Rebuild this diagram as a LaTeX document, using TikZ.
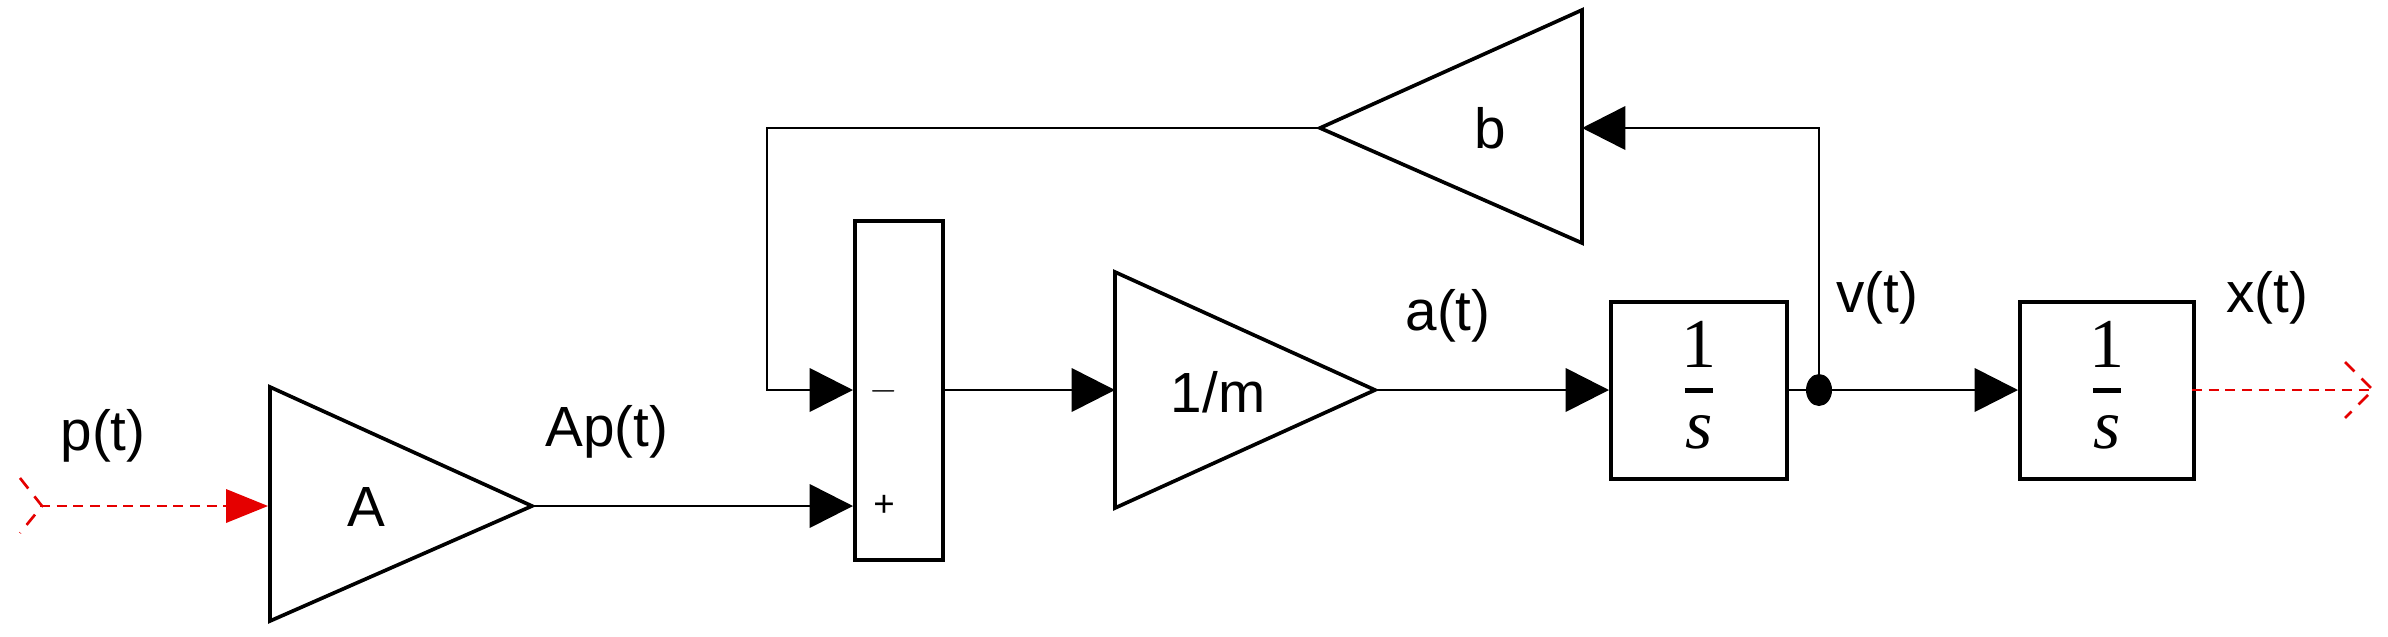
\documentclass[tikz,border=0pt]{standalone}
\usepackage{fontspec}
\setmainfont{Liberation Sans}
\newfontfamily\serif{Liberation Serif}
\usetikzlibrary{arrows.meta}
\begin{document}
\begin{tikzpicture}[x=0.3pt,y=-0.3pt,
  blk/.style={draw,line width=1.1pt,fill=white},
  wire/.style={line width=0.8pt,-{Triangle[length=13pt,width=13pt]}},
  sig/.style={draw,line width=0.8pt,line join=miter},
  red/.style={draw=red!90!black,dashed,line width=0.8pt,dash pattern=on 3pt off 2pt},
  lbl/.style={font=\fontsize{17}{17}\selectfont},
  frac/.style={font=\serif\fontsize{21}{21}\selectfont,inner sep=0pt}]
\useasboundingbox (0,0) rectangle (2388,636);
% gain A
\draw[blk] (270,387) -- (532,506) -- (270,621) -- cycle;
\coordinate (Ain) at (270,506); \coordinate (Aout) at (532,506);
\node[lbl] (Alab) at (366,507) {A};
% sum
\node[blk,minimum width=88*0.3pt,minimum height=339*0.3pt,inner sep=0,anchor=north west] (sum) at (853,219) {};
\coordinate (sm) at (853,390); \coordinate (sp) at (853,506); \coordinate (so) at (941,390);
\node[font=\fontsize{11}{11}\selectfont] (minus) at (884,391) {$-$};
\node[font=\fontsize{11}{11}\selectfont] (plus) at (884,506) {+};
% 1/m
\draw[blk] (1115,272) -- (1375,390) -- (1115,508) -- cycle;
\coordinate (Min) at (1115,390); \coordinate (Mout) at (1375,390);
\node[lbl] (Mlab) at (1218,392) {1/m};
% b
\draw[blk] (1582,10) -- (1320,128) -- (1582,243) -- cycle;
\coordinate (Bin) at (1582,128); \coordinate (Bout) at (1320,128);
\node[lbl] (Blab) at (1490,128) {b};
% integrators
\node[blk,minimum width=176*0.3pt,minimum height=177*0.3pt,inner sep=0,anchor=north west] (I1) at (1609,300) {};
\node[blk,minimum width=174*0.3pt,minimum height=177*0.3pt,inner sep=0,anchor=north west] (I2) at (2018,300) {};
\foreach \n in {I1,I2}{
  \node[frac] at ([yshift=46*0.3pt]\n.center) {1};
  \draw[line width=1.6pt] ([xshift=-14*0.3pt]\n.center) -- ([xshift=14*0.3pt]\n.center);
  \node[frac] at ([yshift=-42*0.3pt]\n.center) {\itshape s};
}
% junction
\coordinate (J) at (1819,390);
\fill (J) circle[x radius=13*0.3pt,y radius=16*0.3pt];
% wires
\draw[wire] (Aout) -- (sp);
\draw[wire] (so) -- (Min);
\draw[wire] (Mout) -- (1609,390);
\draw[sig] (1785,390) -- (J);
\draw[wire] (J) -- (2018,390);
\draw[wire] (J) |- (Bin);
\draw[wire] (Bout) -| (767,390) -- (sm);
% red in/out
\coordinate (pin) at (40,506);
\draw[red] (pin) -- (226,506);
\fill[red!90!black] (226,489) -- (268,506) -- (226,523) -- cycle;
\draw[red,dash pattern=on 4pt off 3pt] (20,478) -- (42,506) -- (20,533);
\coordinate (xout) at (2372,390);
\draw[red] (2192,390) -- (xout);
\draw[red,dash pattern=on 4pt off 3pt] (2345,362) -- (2373,390) -- (2345,418);
% labels
\node[lbl] (pl) at (103,436) {p(t)};
\node[lbl] (apl) at (607,432) {Ap(t)};
\node[lbl] (al) at (1448,316) {a(t)};
\node[lbl] (vl) at (1877,298) {v(t)};
\node[lbl] (xl) at (2267,298) {x(t)};
\end{tikzpicture}
\end{document}
